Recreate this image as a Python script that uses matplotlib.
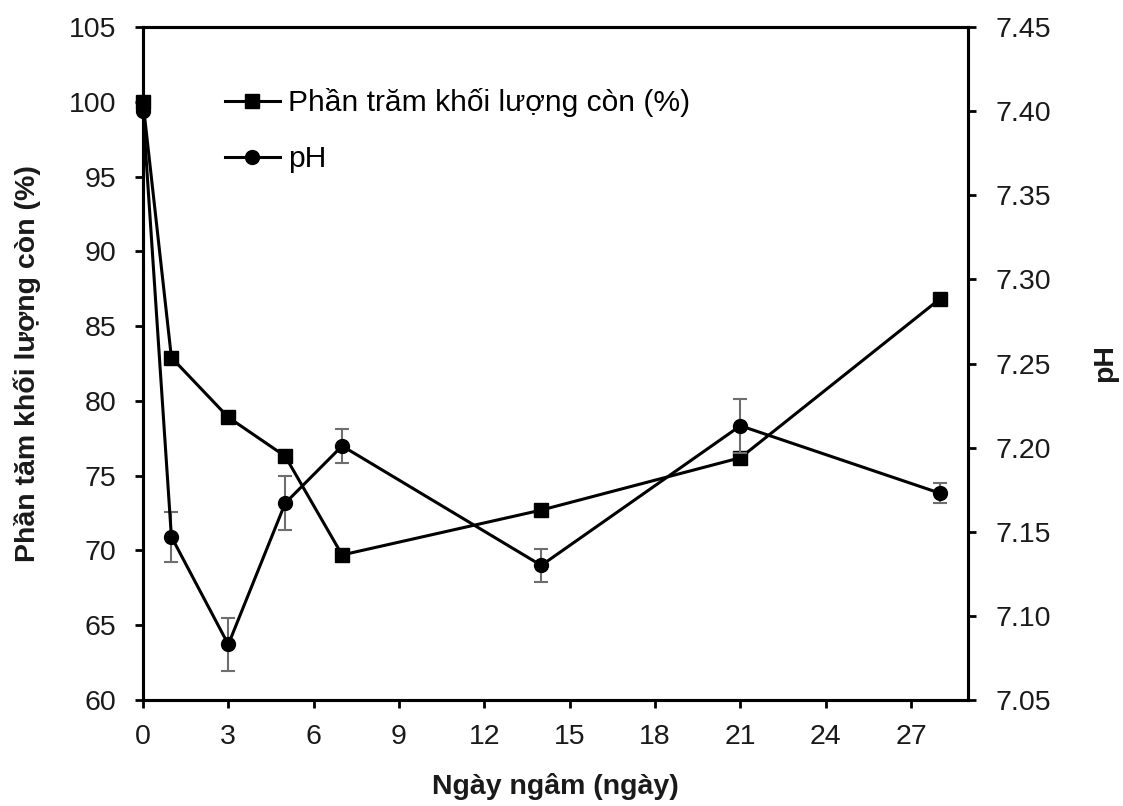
import numpy as np
import matplotlib.pyplot as plt
from matplotlib.ticker import FormatStrFormatter

# data
days = [0, 1, 3, 5, 7, 14, 21, 28]
mass_pct = [100.0, 82.9, 78.9, 76.3, 69.7, 72.7, 76.2, 86.8]
ph = [7.400, 7.147, 7.083, 7.167, 7.201, 7.130, 7.213, 7.173]
ph_err = [0.0, 0.015, 0.016, 0.016, 0.010, 0.010, 0.016, 0.006]

x_ticks = list(range(0, 28, 3))
left_ticks = list(range(60, 106, 5))
right_ticks = [7.05, 7.10, 7.15, 7.20, 7.25, 7.30, 7.35, 7.40, 7.45]

plt.rcParams['font.family'] = ['Liberation Sans', 'DejaVu Sans']
FS = 20.5
TXT = '#1a1a1a'

fig = plt.figure(figsize=(11.23, 8.06), dpi=100)
ax1 = fig.add_axes([0.1273, 0.1315, 0.862 - 0.1273, 0.9665 - 0.1315])
ax2 = ax1.twinx()

l1, = ax1.plot(days, mass_pct, color='black', lw=2.2, marker='s', ms=9.5,
               clip_on=False, zorder=3, label='Phần trăm khối lượng còn (%)')
ax2.errorbar(days, ph, yerr=ph_err, fmt='none', ecolor='#6e6e6e', elinewidth=1.5,
             capsize=5, capthick=1.5, zorder=2)
l2, = ax2.plot(days, ph, color='black', lw=2.2, marker='o', ms=10,
               clip_on=False, zorder=3, label='pH')

ax1.set_xlim(0, 29)
ax1.set_ylim(60, 105)
ax2.set_ylim(7.05, 7.45)
ax1.set_xticks(x_ticks)
ax1.set_yticks(left_ticks)
ax2.set_yticks(right_ticks)
ax2.yaxis.set_major_formatter(FormatStrFormatter('%.2f'))

for ax in (ax1, ax2):
    for s in ax.spines.values():
        s.set_linewidth(2.2)
    ax.tick_params(direction='out', length=6, width=2, labelsize=FS,
                   labelcolor=TXT)
ax1.tick_params(axis='x', pad=11)
ax1.tick_params(axis='y', pad=13)
ax2.tick_params(axis='y', pad=14)

ax1.set_xlabel('Ngày ngâm (ngày)', fontsize=FS, fontweight='bold', color=TXT, labelpad=17)
ax1.set_ylabel('Phần tăm khối lượng còn (%)', fontsize=FS, fontweight='bold', color=TXT, labelpad=20)
ax2.set_ylabel('pH', fontsize=FS, fontweight='bold', color=TXT, rotation=90, labelpad=29)

ax2.legend(handles=[l1, l2], loc='upper left', bbox_to_anchor=(0.099, 0.909),
           frameon=False, fontsize=21.6, handlelength=1.85, handletextpad=0.25,
           labelspacing=0.93, borderaxespad=0, borderpad=0)

fig.savefig('out.png', dpi=100)
